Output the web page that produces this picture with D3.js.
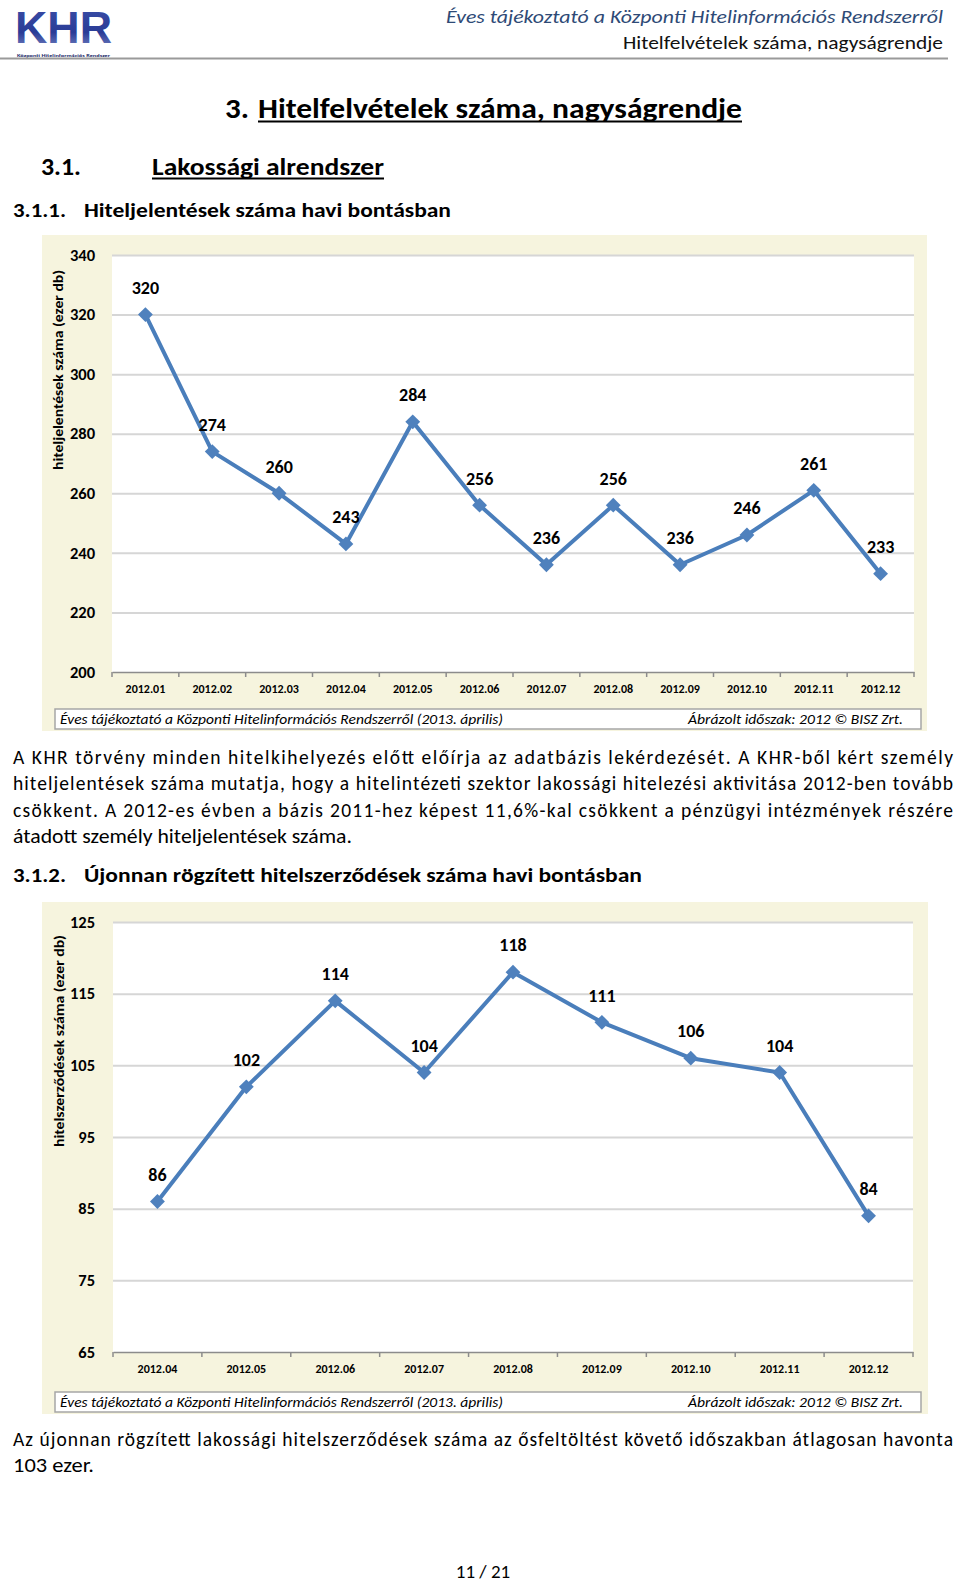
<!DOCTYPE html>
<html><head><meta charset="utf-8">
<script src="https://cdn.jsdelivr.net/npm/d3@7"></script>
<style>
html,body{margin:0;padding:0;background:#fff;}
svg{display:block;}
text{font-family:Carlito, Calibri, Lato, "Open Sans", sans-serif;}
</style></head>
<body>
<svg id="page" width="960" height="1585"></svg>
<script>
// ---------- DATA ----------
const months1 = ["2012.01","2012.02","2012.03","2012.04","2012.05","2012.06","2012.07","2012.08","2012.09","2012.10","2012.11","2012.12"];
const values1 = [320,274,260,243,284,256,236,256,236,246,261,233];
const yTicks1 = [200,220,240,260,280,300,320,340];

const months2 = ["2012.04","2012.05","2012.06","2012.07","2012.08","2012.09","2012.10","2012.11","2012.12"];
const values2 = [86,102,114,104,118,111,106,104,84];
const yTicks2 = [65,75,85,95,105,115,125];

const yTitle1 = "hiteljelentések száma (ezer db)";
const yTitle2 = "hitelszerződések száma (ezer db)";
const footLeft = "Éves tájékoztató a Központi Hitelinformációs Rendszerről (2013. április)";
const footRight = "Ábrázolt időszak: 2012 © BISZ Zrt.";

const para1 = [
 "A KHR törvény minden hitelkihelyezés előtt előírja az adatbázis lekérdezését. A KHR-ből kért személy",
 "hiteljelentések száma mutatja, hogy a hitelintézeti szektor lakossági hitelezési aktivitása 2012-ben tovább",
 "csökkent. A 2012-es évben a bázis 2011-hez képest 11,6%-kal csökkent a pénzügyi intézmények részére",
 "átadott személy hiteljelentések száma."
];
const para2 = [
 "Az újonnan rögzített lakossági hitelszerződések száma az ősfeltöltést követő időszakban átlagosan havonta",
 "103 ezer."
];

const svg = d3.select("#page");
const BLUE = "#4A7EBB";
const CREAM = "#F6F4DE";

// ---------- HEADER ----------
const grad = svg.append("defs").append("linearGradient").attr("id","lg").attr("x1",0).attr("y1",0).attr("x2",0).attr("y2",1);
grad.append("stop").attr("offset","0%").attr("stop-color","#3B4FA8");
grad.append("stop").attr("offset","60%").attr("stop-color","#2A3C96");
grad.append("stop").attr("offset","100%").attr("stop-color","#7E8CC8");
svg.append("text").attr("x",15).attr("y",43).attr("font-size",44).attr("font-weight","bold")
  .attr("fill","url(#lg)").attr("textLength",97).attr("lengthAdjust","spacingAndGlyphs")
  .style("font-family","'Liberation Sans', sans-serif").text("KHR");
svg.append("text").attr("x",17).attr("y",56.5).attr("font-size",4.5).attr("font-weight","bold")
  .attr("fill","#1c2a6a").attr("textLength",93).attr("lengthAdjust","spacingAndGlyphs").text("Központi Hitelinformációs Rendszer");
svg.append("line").attr("x1",0).attr("x2",948).attr("y1",58.5).attr("y2",58.5).attr("stroke","#9a9a9a").attr("stroke-width",2);
svg.append("text").attr("x",943).attr("y",23).attr("text-anchor","end").attr("font-size",19)
  .attr("font-style","italic").attr("fill","#2E4A76").attr("textLength",497).attr("lengthAdjust","spacingAndGlyphs")
  .text("Éves tájékoztató a Központi Hitelinformációs Rendszerről");
svg.append("text").attr("x",943).attr("y",49).attr("text-anchor","end").attr("font-size",19)
  .attr("fill","#111").attr("textLength",320).attr("lengthAdjust","spacingAndGlyphs")
  .text("Hitelfelvételek száma, nagyságrendje");

// headings
function heading(x, y, size, txt, len, underline) {
  const t = svg.append("text").attr("x",x).attr("y",y).attr("font-size",size).attr("font-weight","bold")
    .attr("fill","#000").text(txt);
  if (len) t.attr("textLength",len).attr("lengthAdjust","spacingAndGlyphs");
  if (underline) svg.append("line").attr("x1",x).attr("x2",x+len).attr("y1",y+3.5).attr("y2",y+3.5)
    .attr("stroke","#000").attr("stroke-width",2);
}
heading(225,118,28,"3.",24,false);
heading(258,118,28,"Hitelfelvételek száma, nagyságrendje",484,true);
heading(41,175,24,"3.1.",40,false);
heading(152,175,24,"Lakossági alrendszer",232,true);
heading(13,217,20,"3.1.1.",53,false);
heading(84,217,20,"Hiteljelentések száma havi bontásban",367,false);
heading(13,882,20,"3.1.2.",53,false);
heading(84,882,20,"Újonnan rögzített hitelszerződések száma havi bontásban",558,false);

// paragraphs
function para(lines, y0, lens) {
  lines.forEach((l,i)=>{
    const t = svg.append("text").attr("x",13).attr("y",y0+i*26.3).attr("font-size",19.5).attr("fill","#000").text(l);
    if (lens[i]) t.attr("textLength",lens[i]).attr("lengthAdjust", i < lines.length-1 ? "spacing" : "spacingAndGlyphs");
  });
}
para(para1, 764, [940,940,940,339]);
para(para2, 1446, [940,81]);
svg.append("text").attr("x",483).attr("y",1578).attr("text-anchor","middle").attr("font-size",19).text("11 / 21");

// ---------- CHART FUNCTION ----------
function chart(o) {
  const g = svg.append("g");
  g.append("rect").attr("x",o.bx).attr("y",o.by).attr("width",o.bw).attr("height",o.bh).attr("fill",CREAM);
  const x = d3.scaleBand().domain(o.cats).range([o.x0,o.x1]).paddingInner(0).paddingOuter(0);
  const y = d3.scaleLinear().domain([o.ticks[0], o.ticks[o.ticks.length-1]]).range([o.y0,o.y1]);
  g.append("rect").attr("x",o.x0).attr("y",o.y1).attr("width",o.x1-o.x0).attr("height",o.y0-o.y1).attr("fill","#fff");
  // gridlines
  const grid = g.append("g").attr("transform",`translate(${o.x0},0)`)
    .call(d3.axisLeft(y).tickValues(o.ticks.slice(1)).tickSize(-(o.x1-o.x0)).tickFormat(""));
  grid.select(".domain").remove();
  grid.selectAll("line").attr("stroke","#D6D6D6").attr("stroke-width",2);
  // y labels
  const ya = g.append("g").attr("transform",`translate(95,0)`)
    .call(d3.axisLeft(y).tickValues(o.ticks).tickSize(0).tickPadding(0));
  ya.select(".domain").remove();
  ya.selectAll("text").attr("font-size",16.5).attr("font-weight","bold").attr("fill","#000")
    .style("font-family","Carlito, Calibri, Lato, sans-serif");
  // x axis
  const xa = g.append("g").attr("transform",`translate(0,${o.y0})`)
    .call(d3.axisBottom(x).tickSize(0).tickPadding(o.xlabOff));
  xa.select(".domain").attr("stroke","#8C8C8C").attr("stroke-width",1.5);
  xa.selectAll("text").attr("font-size",12).attr("font-weight","bold").attr("fill","#000")
    .style("font-family","Carlito, Calibri, Lato, sans-serif");
  const edges = o.cats.map(c=>x(c)).concat([o.x1]);
  g.selectAll(".tk").data(edges).join("line").attr("x1",d=>d).attr("x2",d=>d)
    .attr("y1",o.y0).attr("y2",o.y0+5).attr("stroke","#8C8C8C").attr("stroke-width",1.5);
  // y title
  g.append("text").attr("transform",`translate(${o.tx},${o.ty}) rotate(-90)`).attr("text-anchor","middle")
    .attr("dy","0.35em").attr("font-size",14).attr("font-weight","bold").attr("fill","#000")
    .attr("textLength",o.tlen).attr("lengthAdjust","spacingAndGlyphs").text(o.title);
  // line
  const cx = c => x(c) + x.bandwidth()/2;
  const line = d3.line().x((d,i)=>cx(o.cats[i])).y(d=>y(d));
  g.append("path").datum(o.vals).attr("d",line).attr("fill","none").attr("stroke",BLUE)
    .attr("stroke-width",4).attr("stroke-linejoin","round");
  g.selectAll(".mk").data(o.vals).join("path")
    .attr("d",d3.symbol().type(d3.symbolSquare).size(110))
    .attr("transform",(d,i)=>`translate(${cx(o.cats[i])},${y(d)}) rotate(45)`)
    .attr("fill","#4F81BD");
  g.selectAll(".lb").data(o.vals).join("text")
    .attr("x",(d,i)=>cx(o.cats[i])).attr("y",d=>y(d)-27).attr("dy","0.35em")
    .attr("text-anchor","middle").attr("font-size",18).attr("font-weight","bold").attr("fill","#000")
    .text(d=>d);
  // footer
  g.append("rect").attr("x",55).attr("y",o.fy).attr("width",866).attr("height",20)
    .attr("fill","#fff").attr("stroke","#A6A6A6").attr("stroke-width",1.5);
  g.append("text").attr("x",60).attr("y",o.fy+15).attr("font-size",14).attr("font-style","italic")
    .attr("textLength",443).attr("lengthAdjust","spacingAndGlyphs").text(footLeft);
  g.append("text").attr("x",903).attr("y",o.fy+15).attr("text-anchor","end").attr("font-size",14).attr("font-style","italic")
    .attr("textLength",215).attr("lengthAdjust","spacingAndGlyphs").text(footRight);
}

chart({cats:months1, vals:values1, ticks:yTicks1, bx:42, by:235, bw:885, bh:496,
  x0:112, x1:914, y0:672, y1:255, xlabOff:12, tx:58, ty:370, tlen:200, title:yTitle1, fy:709});
chart({cats:months2, vals:values2, ticks:yTicks2, bx:42, by:902, bw:886, bh:512,
  x0:113, x1:913, y0:1352, y1:922, xlabOff:12, tx:59, ty:1041, tlen:212, title:yTitle2, fy:1392});
</script>
</body></html>
